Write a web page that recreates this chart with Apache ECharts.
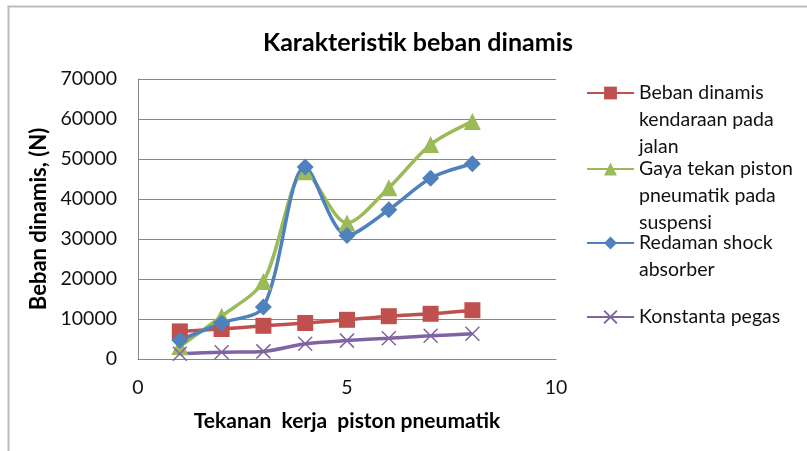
<!DOCTYPE html>
<html>
<head>
<meta charset="utf-8">
<script src="https://cdn.jsdelivr.net/npm/echarts@6/dist/echarts.min.js"></script>
<style>
  html, body { margin: 0; padding: 0; background: #fff; }
  #chart { width: 807px; height: 451px; }
</style>
</head>
<body>
<div id="chart"></div>
<script>
// tekanan kerja piston (x)
const tekanan = [1, 2, 3, 4, 5, 6, 7, 8];
const bebanDinamis = [6900, 7500, 8300, 9000, 9800, 10700, 11300, 12200];
const gayaTekan = [3100, 10700, 19400, 46800, 34000, 42800, 53600, 59400];
const redamanShock = [4700, 9000, 13000, 48000, 30900, 37300, 45200, 48800];
const konstantaPegas = [1300, 1700, 1900, 3800, 4600, 5200, 5800, 6300];
const yTicks = [0, 10000, 20000, 30000, 40000, 50000, 60000, 70000];
const xTicks = [0, 5, 10];

const seriesNames = [
  'Beban dinamis\nkendaraan pada\njalan',
  'Gaya tekan piston\npneumatik pada\nsuspensi',
  'Redaman shock\nabsorber',
  'Konstanta pegas',
];

const pair = (vals) => tekanan.map((x, i) => [x, vals[i]]);

const font = 'Lato, "Open Sans", sans-serif';
const gridColor = '#868686';

// one legend per entry; blank lines on top keep the marker on the first text row
const legendTops = [93, 169, 243, 317];
const lineH = 27;
const legends = seriesNames.map((name, i) => {
  const n = name.split('\n').length;
  const total = 2 * n - 1;
  return {
    left: 586,
    top: legendTops[i] - (total * lineH) / 2,
    padding: 0,
    itemWidth: 47,
    itemHeight: 16,
    itemGap: 4,
    data: [name],
    formatter: (nm) => '\n'.repeat(n - 1) + nm,
    textStyle: {
      fontFamily: font,
      fontSize: 19.5,
      color: '#111',
      lineHeight: lineH,
    },
  };
});

const chart = echarts.init(document.getElementById('chart'));
chart.setOption({
  animation: false,
  title: {
    text: 'Karakteristik beban dinamis',
    left: 413,
    top: 25,
    textAlign: 'center',
    textStyle: { fontFamily: font, fontSize: 25, fontWeight: 'bold', color: '#000' },
  },
  legend: legends,
  graphic: [
    {
      type: 'polyline',
      shape: { points: [[8.5, 451], [8.5, 6.5], [807, 6.5]] },
      style: { stroke: '#bcbcbc', lineWidth: 2, fill: null },
    },
  ],
  grid: { left: 138, right: 251, top: 79, bottom: 92 },
  xAxis: {
    type: 'value',
    min: xTicks[0],
    max: xTicks[xTicks.length - 1],
    interval: 5,
    name: 'Tekanan  kerja  piston pneumatik',
    nameLocation: 'middle',
    nameGap: 52,
    nameTextStyle: { fontFamily: font, fontSize: 21, fontWeight: 'bold', color: '#000' },
    axisLine: { lineStyle: { color: gridColor } },
    axisTick: { show: false },
    splitLine: { show: false },
    axisLabel: { fontFamily: font, fontSize: 19.5, color: '#111', margin: 19 },
  },
  yAxis: {
    type: 'value',
    min: yTicks[0],
    max: yTicks[yTicks.length - 1],
    interval: 10000,
    name: 'Beban dinamis, (N)',
    nameLocation: 'middle',
    nameGap: 74,
    nameTextStyle: { fontFamily: font, fontSize: 22, fontWeight: 'bold', color: '#000' },
    axisLine: { show: true, lineStyle: { color: gridColor } },
    axisTick: { show: false },
    splitLine: { lineStyle: { color: gridColor, width: 1 } },
    axisLabel: {
      fontFamily: font,
      fontSize: 19.5,
      color: '#111',
      margin: 21,
      formatter: (v) => String(v),
    },
  },
  series: [
    {
      name: seriesNames[0],
      type: 'line',
      smooth: 0.3,
      data: pair(bebanDinamis),
      symbol: 'rect',
      symbolSize: 16,
      lineStyle: { width: 3.5 },
      itemStyle: { color: '#C0504D' },
    },
    {
      name: seriesNames[1],
      type: 'line',
      smooth: 0.3,
      data: pair(gayaTekan),
      symbol: 'triangle',
      symbolSize: 17,
      lineStyle: { width: 3.5 },
      itemStyle: { color: '#9BBB59' },
    },
    {
      name: seriesNames[2],
      type: 'line',
      smooth: 0.3,
      data: pair(redamanShock),
      symbol: 'diamond',
      symbolSize: 17,
      lineStyle: { width: 3.5 },
      itemStyle: { color: '#4F81BD' },
    },
    {
      name: seriesNames[3],
      type: 'line',
      smooth: 0.3,
      data: pair(konstantaPegas),
      symbol: 'path://M0,0L10,10M10,0L0,10',
      symbolSize: 14,
      lineStyle: { width: 3.5, color: '#8064A2' },
      itemStyle: { color: '#8064A2', borderColor: '#8064A2', borderWidth: 1.5 },
    },
  ],
});
</script>
</body>
</html>
